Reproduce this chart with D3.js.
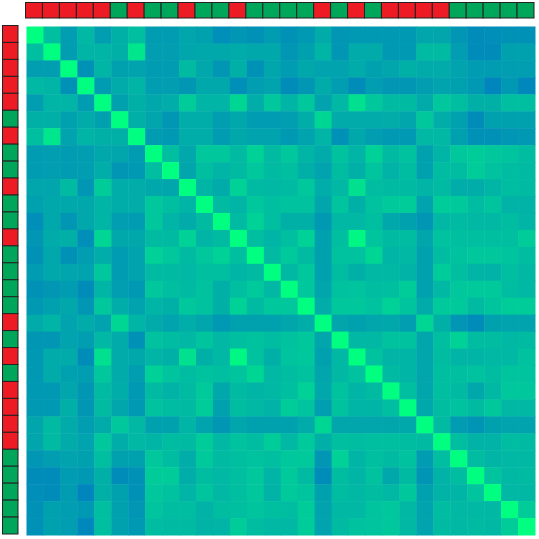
<html>
<head>
  <meta charset="utf-8">
  <title>Correlation heatmap</title>
  <script src="https://d3js.org/d3.v7.min.js"></script>
</head>
<style>
  html, body { margin: 0; padding: 0; background: #fff; overflow: hidden; }
</style>
<body>
<svg width="539" height="539"></svg>
<script>
  // group of each sample (R = red, G = green), same order on both axes
  const groups = ["R","R","R","R","R","G","R","G","G","R","G","G","R","G","G",
                  "G","G","R","G","R","G","R","R","R","R","G","G","G","G","G"];

  // upper triangle of the matrix, row i holds columns i+1 .. 29
  const upper = [
    [0.75,0.62,0.72,0.62,0.69,0.75,0.61,0.61,0.65,0.63,0.56,0.59,0.57,0.61, 0.57,0.60,0.67,0.59,0.60,0.60,0.60,0.60,0.65,0.65,0.59,0.55,0.56,0.57,0.57],
    [0.62,0.71,0.71,0.69,0.90,0.62,0.62,0.65,0.66,0.66,0.67,0.66,0.66, 0.59,0.63,0.71,0.59,0.67,0.67,0.60,0.60,0.73,0.73,0.62,0.55,0.55,0.63,0.63],
    [0.57,0.71,0.63,0.64,0.61,0.61,0.73,0.66,0.59,0.69,0.57,0.65, 0.61,0.66,0.64,0.64,0.67,0.63,0.65,0.69,0.67,0.67,0.64,0.61,0.61,0.62,0.62],
    [0.61,0.67,0.71,0.62,0.62,0.59,0.66,0.66,0.56,0.62,0.64, 0.55,0.59,0.67,0.62,0.55,0.62,0.59,0.59,0.62,0.64,0.63,0.60,0.52,0.60,0.53],
    [0.63,0.69,0.66,0.68,0.80,0.71,0.71,0.84,0.68,0.78, 0.71,0.78,0.64,0.72,0.88,0.78,0.73,0.73,0.67,0.78,0.75,0.69,0.69,0.75,0.75],
    [0.69,0.65,0.59,0.68,0.68,0.62,0.66,0.61,0.61, 0.62,0.68,0.84,0.67,0.67,0.67,0.68,0.65,0.78,0.68,0.63,0.55,0.63,0.63,0.63],
    [0.61,0.60,0.68,0.68,0.61,0.66,0.64,0.64, 0.60,0.64,0.71,0.57,0.66,0.62,0.60,0.60,0.72,0.72,0.63,0.57,0.57,0.59,0.60],
    [0.75,0.66,0.78,0.78,0.73,0.82,0.73, 0.78,0.71,0.67,0.76,0.71,0.82,0.73,0.76,0.63,0.71,0.78,0.80,0.78,0.77,0.74],
    [0.65,0.75,0.71,0.73,0.78,0.73, 0.75,0.69,0.64,0.74,0.69,0.77,0.70,0.74,0.63,0.74,0.74,0.80,0.76,0.74,0.73],
    [0.71,0.67,0.82,0.73,0.72, 0.73,0.78,0.68,0.72,0.88,0.74,0.73,0.73,0.71,0.73,0.68,0.68,0.71,0.74,0.73],
    [0.73,0.71,0.78,0.75, 0.76,0.76,0.65,0.77,0.69,0.76,0.79,0.80,0.64,0.80,0.79,0.74,0.77,0.70,0.70],
    [0.73,0.82,0.75, 0.69,0.69,0.60,0.72,0.72,0.75,0.66,0.63,0.59,0.72,0.73,0.72,0.72,0.74,0.71],
    [0.75,0.71, 0.75,0.82,0.63,0.75,0.97,0.77,0.73,0.74,0.65,0.76,0.75,0.75,0.75,0.75,0.80],
    [0.73, 0.79,0.73,0.63,0.76,0.76,0.84,0.71,0.72,0.63,0.74,0.76,0.78,0.78,0.77,0.74],
    [0.72,0.78,0.63,0.74,0.69,0.72,0.72,0.70,0.63,0.80,0.75,0.71,0.70,0.75,0.72],
    [0.78,0.65,0.76,0.77,0.74,0.75,0.80,0.63,0.72,0.78,0.79,0.79,0.74,0.72],
    [0.68,0.78,0.78,0.76,0.82,0.77,0.67,0.79,0.79,0.73,0.77,0.80,0.80],
    [0.65,0.63,0.65,0.66,0.62,0.84,0.69,0.59,0.55,0.63,0.64,0.64],
    [0.72,0.72,0.76,0.76,0.65,0.75,0.82,0.74,0.74,0.72,0.73],
    [0.76,0.71,0.71,0.65,0.74,0.71,0.71,0.72,0.72,0.76],
    [0.73,0.71,0.65,0.75,0.75,0.76,0.74,0.77,0.77],
    [0.75,0.65,0.75,0.73,0.66,0.72,0.78,0.78],
    [0.66,0.74,0.76,0.73,0.78,0.72,0.72],
    [0.73,0.61,0.58,0.63,0.64,0.64],
    [0.75,0.70,0.70,0.74,0.73],
    [0.74,0.71,0.72,0.72],
    [0.77,0.72,0.73],
    [0.72,0.72],
    [0.80]
  ];

  const groupColor = { R: "#ed1c24", G: "#00a65a" };

  const n = groups.length;
  const cells = [];
  for (let i = 0; i < n; i++) {
    for (let j = 0; j < n; j++) {
      let v;
      if (i === j) v = 1;
      else if (j > i) v = upper[i][j - i - 1];
      else v = upper[j][i - j - 1];
      cells.push({ row: i, col: j, value: v });
    }
  }

  const svg = d3.select("svg");
  const idx = d3.range(n);

  const x = d3.scaleBand().domain(idx).range([26.5, 535]);
  const y = d3.scaleBand().domain(idx).range([26.5, 535]);

  // matplotlib "winter"-like ramp
  const color = d3.scaleLinear()
    .domain([0, 1])
    .range(["rgb(0,0,255)", "rgb(0,255,128)"])
    .interpolate(d3.interpolateRgb);

  svg.append("g")
    .selectAll("rect")
    .data(cells)
    .join("rect")
    .attr("x", d => x(d.col))
    .attr("y", d => y(d.row))
    .attr("width", x.bandwidth() + 0.5)
    .attr("height", y.bandwidth() + 0.5)
    .attr("fill", d => color(d.value));

  // top annotation bar
  svg.append("g")
    .selectAll("rect")
    .data(idx)
    .join("rect")
    .attr("x", d => x(d) - 1)
    .attr("y", 2.5)
    .attr("width", x.bandwidth())
    .attr("height", 15.5)
    .attr("fill", d => groupColor[groups[d]])
    .attr("stroke", "#222")
    .attr("stroke-width", 1);

  // left annotation bar
  svg.append("g")
    .selectAll("rect")
    .data(idx)
    .join("rect")
    .attr("x", 2.5)
    .attr("y", d => y(d) - 1)
    .attr("width", 15.5)
    .attr("height", y.bandwidth())
    .attr("fill", d => groupColor[groups[d]])
    .attr("stroke", "#222")
    .attr("stroke-width", 1);
</script>
</body>
</html>
